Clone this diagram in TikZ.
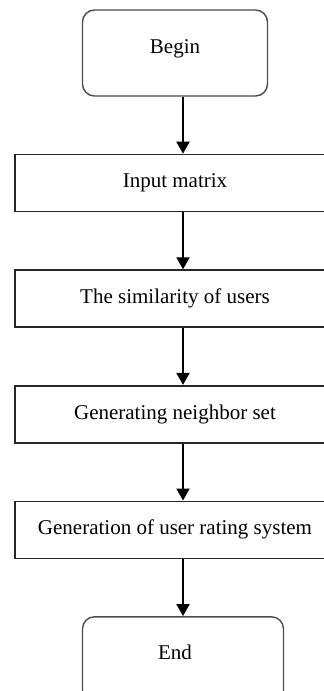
\documentclass[tikz,border=0pt]{standalone}
\usepackage{fontspec}
\setmainfont{Liberation Serif}
\usetikzlibrary{arrows.meta, positioning}

\begin{document}
\begin{tikzpicture}[
  font=\fontsize{10.5}{12.6}\selectfont,
  term/.style={draw=black!70, line width=0.7pt, rounded corners=6pt, minimum width=92.5pt, minimum height=43pt, text height=7pt, text depth=7pt, align=center},
  proc/.style={draw=black!85, line width=0.8pt, minimum width=160pt, minimum height=28.5pt, align=center},
  edge/.style={-{Triangle[width=6.5pt,length=6pt]}, line width=1pt}
]
\clip (0,0) rectangle (162pt,-345.5pt);
\node[term] (begin) at (87.5pt,-26.5pt) {Begin};
\node[proc, below=28.5pt of begin] (input) {Input matrix};
\node[proc, below=28.5pt of input] (simil) {The similarity of users};
\node[proc, below=28.5pt of simil] (neigh) {Generating neighbor set};
\node[proc, below=28.5pt of neigh] (rating) {Generation of user rating system};
\node[term, minimum width=100.5pt, below=28.5pt of rating, xshift=4pt] (end) {End\hspace{8pt}};

\draw[edge] ([xshift=4pt]begin.south) -- ([xshift=4pt]input.north);
\draw[edge] ([xshift=4pt]input.south) -- ([xshift=4pt]simil.north);
\draw[edge] ([xshift=4pt]simil.south) -- ([xshift=4pt]neigh.north);
\draw[edge] ([xshift=4pt]neigh.south) -- ([xshift=4pt]rating.north);
\draw[edge] ([xshift=4pt]rating.south) -- (end.north);
\end{tikzpicture}
\end{document}
